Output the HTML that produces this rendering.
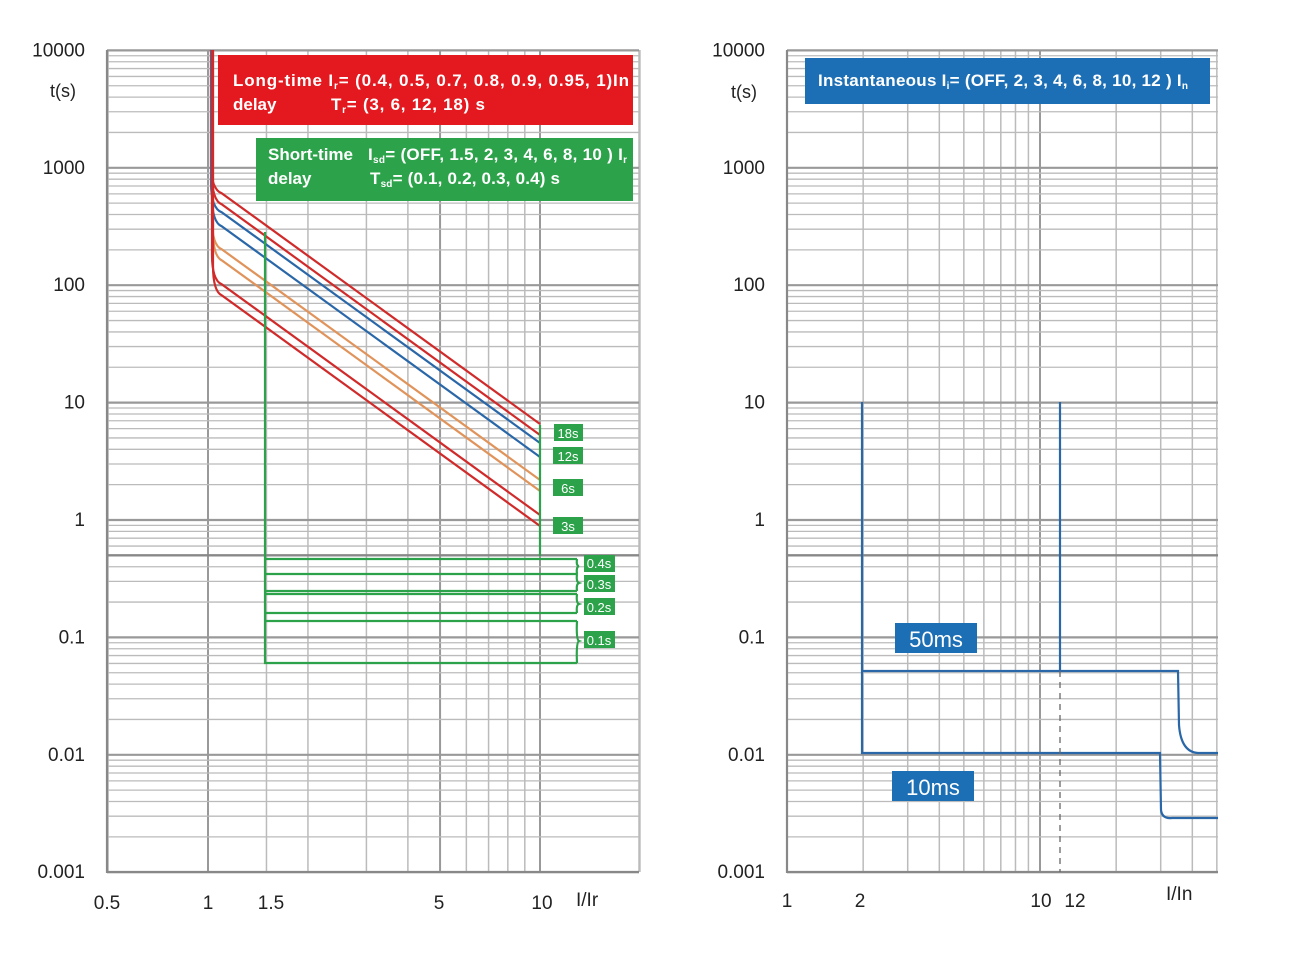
<!DOCTYPE html>
<html><head><meta charset="utf-8"><style>
html,body{margin:0;padding:0;background:#fff;}
svg{display:block;font-family:"Liberation Sans",sans-serif;}
</style></head><body>
<svg id="s" width="1297" height="954" viewBox="0 0 1297 954" xmlns="http://www.w3.org/2000/svg">
<g id="grid"></g>
<g fill="none" stroke-width="2.2" id="curves"></g>
<g fill="none" stroke="#2ca34a" stroke-width="2.2">
<path d="M265,232 L265,663 L577,663"/>
<path d="M540,425 L540,556"/>
<path d="M265,559 L577,559 M265,574 L577,574 M265,591 L577,591 M265,594 L577,594 M265,613 L577,613 M265,621 L577,621"/>
<path d="M577,559 Q576,566 579,566 Q576,567 577,574"/>
<path d="M577,574 Q576,582 579,583 Q576,584 577,591"/>
<path d="M577,594 Q576,603 579,604 Q576,605 577,613"/>
<path d="M577,621 Q576,640 579,641 Q576,642 577,663"/>
</g>
<g fill="none" stroke="#2a67a8" stroke-width="2.2">
<path d="M862,402 L862,753 L1160,753 L1161,810 Q1162,819 1172,818 L1218,818"/>
<path d="M1060,402 L1060,671 M862,671 L1178,671 L1179,725 Q1181,752 1198,753 L1218,753"/>
</g>
<path d="M1060,671 L1060,872" stroke="#666" stroke-width="1.3" stroke-dasharray="6,5"/>
<rect x="218" y="55" width="415" height="70" fill="#e3191f"/>
<text x="233" y="86" fill="#fff" font-size="17" font-weight="bold" textLength="396" lengthAdjust="spacing">Long-time I<tspan font-size="10" dy="3">r</tspan><tspan dy="-3">= (0.4, 0.5, 0.7, 0.8, 0.9, 0.95, 1)In</tspan></text>
<text x="233" y="110" fill="#fff" font-size="17" font-weight="bold">delay</text>
<text x="331" y="110" fill="#fff" font-size="17" font-weight="bold" textLength="154" lengthAdjust="spacing">T<tspan font-size="10" dy="3">r</tspan><tspan dy="-3">= (3, 6, 12, 18) s</tspan></text>
<rect x="256" y="138" width="377" height="63" fill="#2ca34a"/>
<text x="268" y="160" fill="#fff" font-size="17" font-weight="bold">Short-time</text>
<text x="368" y="160" fill="#fff" font-size="17" font-weight="bold" textLength="259" lengthAdjust="spacing">I<tspan font-size="10" dy="3">sd</tspan><tspan dy="-3">= (OFF, 1.5, 2, 3, 4, 6, 8, 10 ) I</tspan><tspan font-size="10" dy="3">r</tspan></text>
<text x="268" y="184" fill="#fff" font-size="17" font-weight="bold">delay</text>
<text x="370" y="184" fill="#fff" font-size="17" font-weight="bold" textLength="190" lengthAdjust="spacing">T<tspan font-size="10" dy="3">sd</tspan><tspan dy="-3">= (0.1, 0.2, 0.3, 0.4) s</tspan></text>
<rect x="805" y="58" width="405" height="46" fill="#1d6fb5"/>
<text x="818" y="86" fill="#fff" font-size="17" font-weight="bold" textLength="370" lengthAdjust="spacing">Instantaneous I<tspan font-size="10" dy="3">i</tspan><tspan dy="-3">= (OFF, 2, 3, 4, 6, 8, 10, 12 ) I</tspan><tspan font-size="10" dy="3">n</tspan></text>
<g font-size="13" fill="#fff" text-anchor="middle">
<rect x="554" y="424" width="29" height="17" fill="#2ca34a"/><text x="568" y="438">18s</text>
<rect x="553" y="447" width="30" height="17" fill="#2ca34a"/><text x="568" y="461">12s</text>
<rect x="553" y="479" width="30" height="17" fill="#2ca34a"/><text x="568" y="493">6s</text>
<rect x="553" y="517" width="30" height="17" fill="#2ca34a"/><text x="568" y="531">3s</text>
<rect x="584" y="555" width="31" height="17" fill="#2ca34a"/><text x="599" y="568">0.4s</text>
<rect x="584" y="575" width="31" height="17" fill="#2ca34a"/><text x="599" y="589">0.3s</text>
<rect x="584" y="598" width="31" height="17" fill="#2ca34a"/><text x="599" y="612">0.2s</text>
<rect x="584" y="631" width="31" height="17" fill="#2ca34a"/><text x="599" y="645">0.1s</text>
</g>
<rect x="895" y="623" width="82" height="30" fill="#1d6fb5"/><text x="936" y="647" fill="#fff" font-size="22" text-anchor="middle">50ms</text>
<rect x="892" y="771" width="82" height="30" fill="#1d6fb5"/><text x="933" y="795" fill="#fff" font-size="22" text-anchor="middle">10ms</text>
<g font-size="19" fill="#222" id="labels"></g>
</svg>
<script>
var NS="http://www.w3.org/2000/svg";
function el(p,t,a,txt){var e=document.createElementNS(NS,t);for(var k in a)e.setAttribute(k,a[k]);if(txt!=null)e.textContent=txt;document.getElementById(p).appendChild(e);return e;}
function yOf(v){return 520-117.4*Math.log10(v);}
function xL(v){return 208+332*Math.log10(v);}
function xR(v){return 787+253*Math.log10(v);}
function hl(x1,x2,y,c,w){el("grid","line",{x1:x1,x2:x2,y1:y,y2:y,stroke:c,"stroke-width":w});}
function vl(x,y1,y2,c,w){el("grid","line",{x1:x,x2:x,y1:y1,y2:y2,stroke:c,"stroke-width":w});}
var panels=[[107,639],[787,1218]];
[0.5,1.5,2,3,4,6,7,8,9,20].forEach(function(v){vl(xL(v),50,872,"#bbb",1.5);});
[1,5,10].forEach(function(v){vl(xL(v),50,872,"#999",2);});
vl(639,50,872,"#bbb",1.5);
[2,3,4,5,6,7,8,9,20,30,40,50].forEach(function(v){vl(xR(v),50,872,"#bbb",1.5);});
vl(xR(10),50,872,"#999",2);
panels.forEach(function(p){
 for(var d=-3;d<4;d++){for(var k=2;k<10;k++){hl(p[0],p[1],yOf(k*Math.pow(10,d)),"#bbb",1.3);}}
 for(var d=-3;d<=4;d++){hl(p[0],p[1],yOf(Math.pow(10,d)),"#999",2.2);}
 hl(p[0],p[1],yOf(0.5),"#888",2.4);
 vl(p[0],50,873,"#888",2.2);hl(p[0],p[1],872,"#888",2.2);
});
var ends=[[424,"#d02a2a"],[435,"#d02a2a"],[443,"#2a67a8"],[457,"#2a67a8"],[480,"#e0935a"],[491,"#e0935a"],[515,"#d02a2a"],[526,"#d02a2a"]];
ends.forEach(function(e,i){
 var yE=e[0],x0=222,y0=yE-0.725*(540-x0);
 var xv=211+(i%2)+(i>3?1:0);
 var d="M"+xv+",50 L"+xv+","+(y0-30)+" Q"+xv+","+(y0-4)+" "+x0+","+y0+" L540,"+yE;
 el("curves","path",{d:d,stroke:e[1]});
});
var yl=["10000","1000","100","10","1","0.1","0.01","0.001"];
yl.forEach(function(t,i){var y=yOf(Math.pow(10,4-i))+6;
 el("labels","text",{x:85,y:y,"text-anchor":"end"},t);
 el("labels","text",{x:765,y:y,"text-anchor":"end"},t);});
el("labels","text",{x:50,y:97,"font-size":18},"t(s)");
el("labels","text",{x:731,y:98,"font-size":18},"t(s)");
[["0.5",107],["1",208],["1.5",271],["5",439],["10",542]].forEach(function(a){el("labels","text",{x:a[1],y:909,"text-anchor":"middle"},a[0]);});
el("labels","text",{x:576,y:906},"I/Ir");
[["1",787],["2",860],["10",1041],["12",1075]].forEach(function(a){el("labels","text",{x:a[1],y:907,"text-anchor":"middle"},a[0]);});
el("labels","text",{x:1166,y:900},"I/In");
</script>
</body></html>
